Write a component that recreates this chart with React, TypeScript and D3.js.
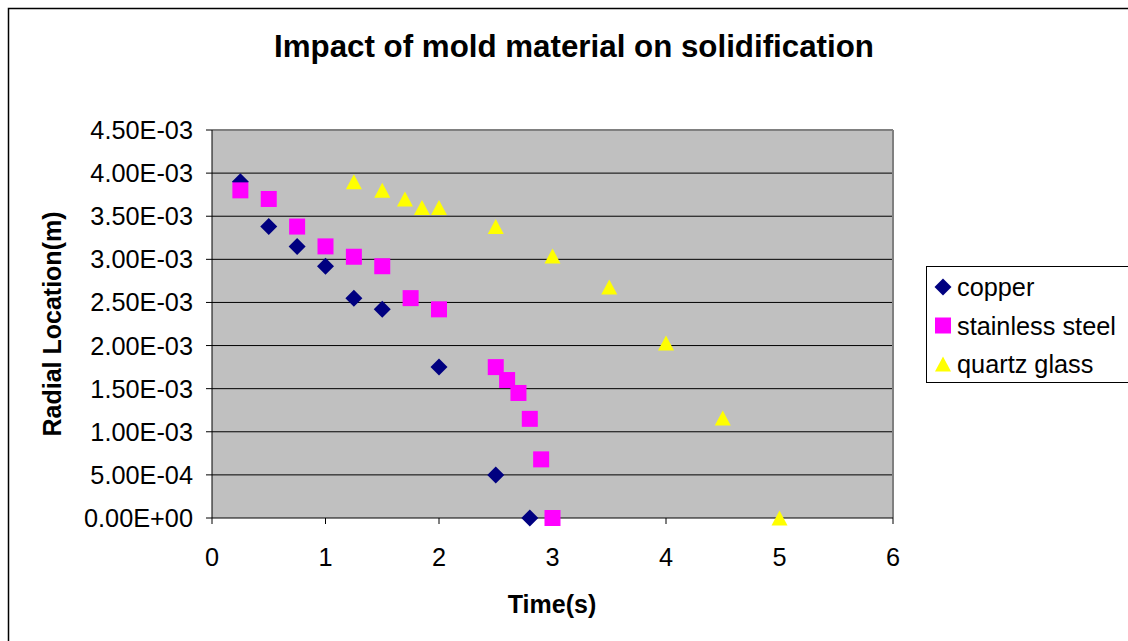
import React from "react";
import * as d3 from "d3";

const copperX = [0.25, 0.5, 0.75, 1.0, 1.25, 1.5, 2.0, 2.5, 2.8];
const copperY = [3.9e-3, 3.38e-3, 3.15e-3, 2.92e-3, 2.55e-3, 2.42e-3, 1.75e-3, 0.5e-3, 0];

const steelX = [0.25, 0.5, 0.75, 1.0, 1.25, 1.5, 1.75, 2.0, 2.5, 2.6, 2.7, 2.8, 2.9, 3.0];
const steelY = [3.8e-3, 3.7e-3, 3.38e-3, 3.15e-3, 3.03e-3, 2.92e-3, 2.55e-3, 2.42e-3, 1.75e-3, 1.6e-3, 1.45e-3, 1.15e-3, 0.68e-3, 0];

const quartzX = [1.25, 1.5, 1.7, 1.85, 2.0, 2.5, 3.0, 3.5, 4.0, 4.5, 5.0];
const quartzY = [3.9e-3, 3.8e-3, 3.7e-3, 3.6e-3, 3.6e-3, 3.38e-3, 3.04e-3, 2.68e-3, 2.03e-3, 1.16e-3, 0];

const xTicks = [0, 1, 2, 3, 4, 5, 6];
const yTicks = [0, 0.5e-3, 1.0e-3, 1.5e-3, 2.0e-3, 2.5e-3, 3.0e-3, 3.5e-3, 4.0e-3, 4.5e-3];
const yTickLabels = ["0.00E+00", "5.00E-04", "1.00E-03", "1.50E-03", "2.00E-03", "2.50E-03", "3.00E-03", "3.50E-03", "4.00E-03", "4.50E-03"];

const seriesNames = ["copper", "stainless steel", "quartz glass"];
const seriesColors = ["#000080", "#FF00FF", "#FFFF00"];
const seriesShapes = ["diamond", "square", "triangle"];

const FONT = "'Liberation Sans', Arial, sans-serif";

function Marker({ shape, cx, cy, color }: { shape: string; cx: number; cy: number; color: string }) {
  if (shape === "diamond") {
    const r = 8.5;
    return <path d={`M${cx},${cy - r}L${cx + r},${cy}L${cx},${cy + r}L${cx - r},${cy}Z`} fill={color} />;
  }
  if (shape === "square") {
    const r = 8;
    return <rect x={cx - r} y={cy - r} width={2 * r} height={2 * r} fill={color} />;
  }
  const w = 8, h = 7.5;
  return <path d={`M${cx},${cy - h}L${cx + w},${cy + h}L${cx - w},${cy + h}Z`} fill={color} />;
}

export default function App() {
  const W = 1128, H = 641;
  const left = 212, right = 893, top = 130, bottom = 518;
  const x = d3.scaleLinear().domain([0, 6]).range([left, right]);
  const y = d3.scaleLinear().domain([0, 4.5e-3]).range([bottom, top]);

  const series = [
    { xs: copperX, ys: copperY },
    { xs: steelX, ys: steelY },
    { xs: quartzX, ys: quartzY },
  ];

  return (
    <svg width={W} height={H} style={{ position: "absolute", left: 0, top: 0 }} fontFamily={FONT}>
      <rect x={0} y={0} width={W} height={H} fill="#fff" />
      <rect x={8.5} y={8.5} width={W + 10} height={H + 10} fill="#fff" stroke="#000" strokeWidth={1.5} />
      <text x={574} y={57} textAnchor="middle" fontSize={31.3} fontWeight="bold">
        Impact of mold material on solidification
      </text>
      <rect x={left} y={top} width={right - left} height={bottom - top} fill="#C0C0C0" />
      {yTicks.slice(1, -1).map((t) => (
        <line key={t} x1={left} x2={right} y1={y(t)} y2={y(t)} stroke="#000" strokeWidth={1} />
      ))}
      <line x1={left} x2={right} y1={top} y2={top} stroke="#808080" strokeWidth={2} />
      <line x1={right} x2={right} y1={top} y2={bottom} stroke="#808080" strokeWidth={2} />
      <line x1={left} x2={left} y1={top} y2={bottom} stroke="#000" strokeWidth={1} />
      <line x1={left} x2={right} y1={bottom} y2={bottom} stroke="#000" strokeWidth={1} />
      {yTicks.map((t, i) => (
        <g key={"yt" + i}>
          <line x1={left - 6} x2={left} y1={y(t)} y2={y(t)} stroke="#000" />
          <text x={193} y={y(t) + 9} textAnchor="end" fontSize={25.3}>
            {yTickLabels[i]}
          </text>
        </g>
      ))}
      {xTicks.map((t) => (
        <g key={"xt" + t}>
          <line x1={x(t)} x2={x(t)} y1={bottom} y2={bottom + 6} stroke="#000" />
          <text x={x(t)} y={566} textAnchor="middle" fontSize={25.3}>
            {t}
          </text>
        </g>
      ))}
      <text x={552} y={613} textAnchor="middle" fontSize={25} fontWeight="bold">
        Time(s)
      </text>
      <text transform={`translate(61,324) rotate(-90)`} textAnchor="middle" fontSize={25} fontWeight="bold">
        Radial Location(m)
      </text>
      {series.map((s, si) => (
        <g key={"s" + si}>
          {s.xs.map((xv, i) => (
            <Marker key={i} shape={seriesShapes[si]} cx={x(xv)} cy={y(s.ys[i])} color={seriesColors[si]} />
          ))}
        </g>
      ))}
      <rect x={926.5} y={266.5} width={210} height={116} fill="#fff" stroke="#000" strokeWidth={1} />
      {seriesNames.map((n, i) => {
        const cy = 287 + i * 38.5;
        return (
          <g key={"l" + i}>
            <Marker shape={seriesShapes[i]} cx={943} cy={cy} color={seriesColors[i]} />
            <text x={957} y={cy + 9} fontSize={25.3}>
              {n}
            </text>
          </g>
        );
      })}
    </svg>
  );
}
